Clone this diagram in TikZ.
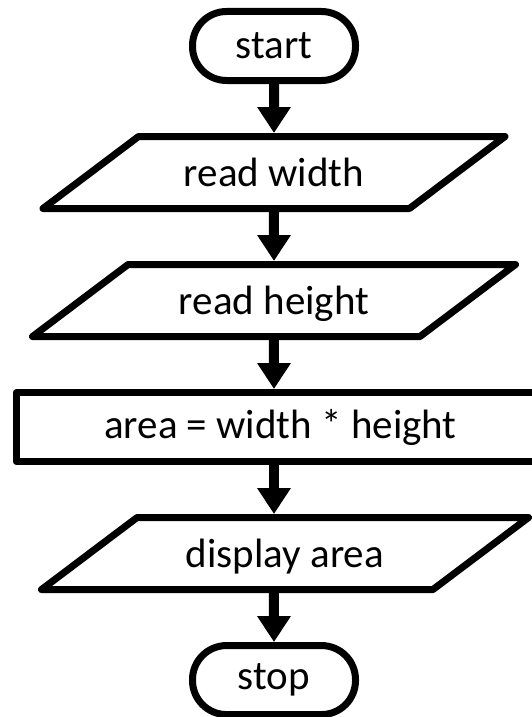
\documentclass[tikz,border=0pt]{standalone}
\usepackage{fontspec}
\setmainfont{Carlito}
\usetikzlibrary{arrows.meta, positioning, shapes.geometric}

\begin{document}
\begin{tikzpicture}[
node distance = 49pt,
every node/.style = {font=\fontsize{41}{49}\selectfont},
term/.style = {draw, line width=7pt, fill=white, rounded corners=34pt,
               minimum width=163pt, minimum height=69pt},
io/.style = {draw, line width=7pt, line join=round, trapezium,
             trapezium left angle=37, trapezium right angle=143,
             trapezium stretches body, inner ysep=0pt,
             text height=50pt, text depth=22pt, minimum height=72pt},
proc/.style = {draw, line width=7pt, line join=round, minimum height=69pt},
every edge/.style = {draw, line width=10pt, -{Triangle[width=32pt, length=26pt]}},
                        ]
\useasboundingbox (0,0) rectangle (532pt,-717pt);
\node (start) [term] at (274pt,-46pt) {start};
\node (rw) [io, minimum width=462pt, below=of start] {read width};
\node (rh) [io, minimum width=483pt, below=of rw] {read height};
\node (area) [proc, minimum width=529pt, below=of rh, xshift=6.5pt] {area = width * height};
\node (disp) [io, minimum width=487pt, below=of area, xshift=4.5pt] {display area};
\node (stop) [term, below=of disp, xshift=-11pt] {stop};
\draw   (start) edge (rw)
(rw) edge (rh)
(rh) edge (rh |- area.north)
(rh |- area.south) edge (rh |- disp.north)
(rh |- disp.south) edge (stop);
   \end{tikzpicture}
\end{document}
